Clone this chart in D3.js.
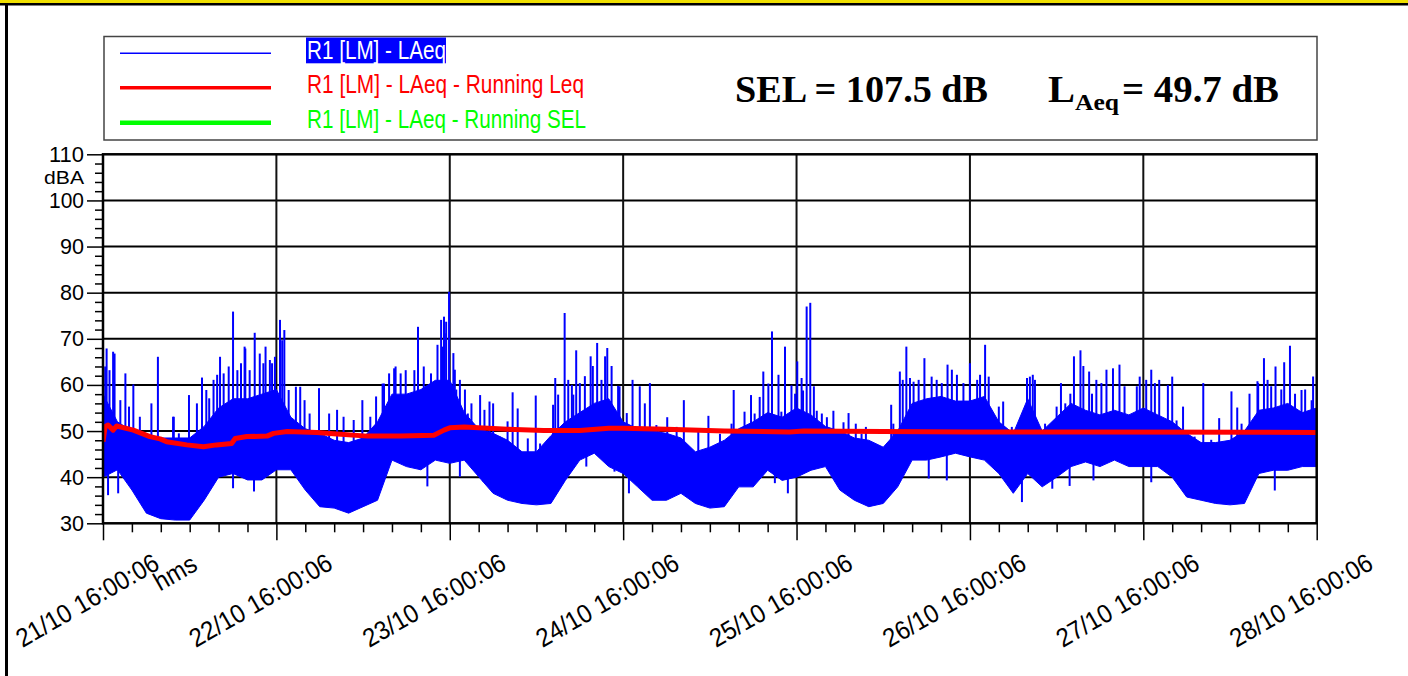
<!DOCTYPE html>
<html lang="en">
<head>
<meta charset="UTF-8">
<title>R1 [LM] - LAeq</title>
<script src="https://cdn.jsdelivr.net/npm/d3@7/dist/d3.min.js"></script>
<style>
  body { margin: 0; background: #fff; }
  svg { display: block; font-family: "Liberation Sans", Arial, sans-serif; }
  .tick line { stroke: #000; stroke-width: 1.5px; }
  .domain { display: none; }
</style>
</head>
<body>
<svg id="chart" width="1408" height="676"></svg>
<script>
// x tick labels, one per day (hours since start)
const dayHours = [0, 24, 48, 72, 96, 120, 144, 168];
const dayLabels = ["21/10 16:00:06", "22/10 16:00:06", "23/10 16:00:06", "24/10 16:00:06",
                   "25/10 16:00:06", "26/10 16:00:06", "27/10 16:00:06", "28/10 16:00:06"];
const yTicks = [30, 40, 50, 60, 70, 80, 90, 100, 110];

// LAeq dense band, read every 2 hours: lower and upper edge (dBA)
const bandHours = [0,2,4,6,8,10,12,14,16,18,20,22,24,26,28,30,32,34,36,38,40,42,44,46,48,
                   50,52,54,56,58,60,62,64,66,68,70,72,74,76,78,80,82,84,86,88,90,92,94,96,
                   98,100,102,104,106,108,110,112,114,116,118,120,122,124,126,128,130,132,134,136,
                   138,140,142,144,146,148,150,152,154,156,158,160,162,164,166,168];
const bandLow = [40,41.6,37.2,32.2,31,30.7,30.7,35,40,40.8,39.4,39.4,41.6,41.6,37.2,33.6,33.3,32.2,33.6,35,43.7,42.3,41.6,43.7,43,
                 43.7,40.1,36.5,35,34.3,34,34.3,39.3,43.7,45.2,42.3,40.8,37.9,35,35,36.5,34.3,33.3,33.6,37.9,37.9,41.5,39.3,40,
                 41.5,42.3,37.2,35,33.6,34.3,37.9,43.7,43.7,44.4,45.2,44.4,43.7,40.8,36.5,40.8,37.9,40,42.3,43.3,
                 42.3,43.7,42.3,42.3,42.3,40,35.7,35,34.3,34,34.3,40.8,41.5,41.5,42.3,42.3];
const bandHigh = [58,52,50,49,48.5,48.5,48.5,51,55,57,57,58,59,53,50.5,49.5,48,47.5,48.5,52,58,58,59,61,61,
                  54,50.5,49.5,48,45.5,45.5,49,52,54,56,57,52,50.5,50,49.5,48.5,45.5,46.5,48,50.5,52,54,53,55,
                  53.5,51,50,48.5,48,46.5,50,56,57,57.5,56.5,56.5,57.5,52,49.5,57,50,53,56,54.5,
                  53.5,54.5,53.5,55,53.5,52,49.5,47.5,47.5,48,50,54.5,55,56,54,55];

// isolated peaks above the band
const peakHours = [0.3,0.5,0.9,1.4,1.6,2.4,3.1,3.6,4.2,5.1,6.7,7.6,9.7,9.8,10.5,11.9,13,13.7,14.3,14.7,15.3,15.8,16.2,16.7,17.4,18,18.6,19.1,19.6,19.7,20.3,21,21.7,22.2,22.5,23.1,23.4,23.8,
                   24.5,24.8,25.1,25.7,26.7,27.3,27.9,28.6,29.9,31.3,32.4,33.3,34.7,35.9,37,37.8,38.7,38.9,39.6,40.3,40.5,41.2,41.9,43.1,43.6,44.4,45.4,46.3,46.8,47,47.2,47.3,47.5,47.9,
                   48.5,48.7,48.9,49.4,50.1,50.5,51,52.2,52.8,53.5,54,54.9,56,56.7,57.4,58.8,59.9,60.5,62.3,62.6,63,63.9,64.4,64.9,65.1,65.5,66,66.7,67.5,67.8,68.4,69,69.5,69.8,70.4,71.3,71.5,72.5,73.3,74.3,75,75.7,76.6,
                   76.9,78.1,79.4,80.4,81,82.4,83.3,83.8,85.4,87,87.3,88.8,89.7,90.2,90.9,91.4,92.1,92.6,93,93.5,93.9,94.4,95.3,95.8,96.1,96.7,96.9,97.4,97.9,98.4,98.8,99.5,100.2,101.1,102.5,103.2,103.6,104.2,105,105.6,
                   109.1,109.4,110.3,110.7,111.2,111.7,112.2,112.9,113.7,114.7,115.4,116.1,116.9,117.5,118.2,119.1,120,121,121.4,122.1,122.6,124,124.6,125.8,127,127.9,128.3,128.7,129,130.4,132,132.6,133.2,133.9,134.4,135.3,135.7,136.5,
                   136.9,137.5,138.2,138.9,139.8,140.7,141.4,143.1,143.5,144.4,145.1,145.6,146.2,147.4,148,148.6,149.5,151.1,152.3,153.4,154.5,155.1,156.2,157,157.6,158.7,159.8,159.9,160.7,161.2,161.7,162.3,163.1,163.5,164.3,165,165.9,166.4,167.3,167.5];
const peakValues = [64,67.9,63.2,67.2,66.8,56.7,62.5,55.3,60.1,53.1,56,66.1,53.1,53.1,49.5,57.8,56,61.6,58.9,57.1,61.1,62.2,66.1,62.5,64,75.9,63.2,64.7,68.3,67.9,63.2,71.3,66.8,64.7,68.3,65.4,64.7,66.1,
                    74.1,69.7,71.9,58.9,59.6,59.6,56.7,53.8,59.3,53.8,54.6,53.1,52.4,56.7,53.1,57.5,60.3,60.3,62.5,63.6,64,62.5,63.2,63.2,72.6,64,62.5,68.7,74.1,68.3,74.8,71.2,73.7,80.2,
                    66.9,63.3,59,61.1,59,53.8,56,57.8,54.6,56.4,56,48.8,52.1,58.4,54.9,48.4,57.7,47.3,55.7,61.5,57.9,75.6,61.1,60,57.9,67.5,60.4,61.9,66.2,64.1,69.1,61.1,66.2,68,64.1,59.8,59.7,53.9,61.1,59.7,56,60.4,51.3,
                    50.9,53,50.9,56.7,45.1,50.6,43.6,53.3,49.4,51.6,58.9,54.2,57.8,53.8,57.4,62.9,60.3,71.6,52.3,62.2,54.2,68.3,59.9,58.1,65.1,61.5,58.8,77,77.8,59.7,54.4,53.8,53,54.4,51.9,53.9,47.2,51.6,49.4,50.9,
                    55.7,51.6,62.9,61.1,68.3,61.5,60.7,61.1,65.8,61.8,61.1,60.4,64.4,63.3,62.2,60.4,64.7,61.1,62.2,68.7,61.8,55.3,56.4,50.9,52.3,61.5,61.8,62.2,61.1,51.6,55.3,60.4,56,58.1,66.2,67.5,64.1,62.9,
                    58.1,61.1,60.4,63.3,63.6,64.4,59.7,59.7,61.8,61.1,63.3,60.4,61.1,60,61.8,52.3,55.3,48.8,60.4,48.1,52.8,46.7,58.6,55.1,51.6,58.1,60.8,60.4,65.8,61.1,59.7,64,59,64.9,68.5,58.1,58.9,59,56.7,61.8];

// isolated dips below the band
const dipHours = [0.7,2.1,18,20.9,44.9,49.4,52.6,66.9,70.8,72.8,83.8,93,94.8,114.3,116.8,127.2,131.4,133.8,137.1,145.1,162.2];
const dipValues = [36.1,36.5,37.6,36.9,38,40.1,39.1,42.3,41.2,36.5,35.7,38.7,36.5,39.7,39.3,34.6,37.5,38.1,39.3,38.9,37.1];

// running Leq
const leqHours = [0,0.3,0.7,1.4,1.9,4.2,6.5,7.9,8.8,11.6,13.9,15.7,17.8,18.3,19.9,22.7,23.6,25.5,29.6,31.9,36.6,41.2,45.8,47.2,48,
                  50,56,61,66,70,72,78,86,95,97,108,120,136,168];
const leqValues = [47.7,51,51.3,50.2,51.1,50.2,48.8,48.3,47.7,47,46.6,47,47.3,48.4,48.8,48.9,49.5,49.9,49.7,49.4,48.9,48.9,49.1,50.2,50.7,
                   50.9,50.4,50.1,50.1,50.6,50.6,50.4,50,49.8,50,49.9,49.8,49.8,49.7];

const legendNames = ["R1 [LM] - LAeq", "R1 [LM] - LAeq - Running Leq", "R1 [LM] - LAeq - Running SEL"];
const legendColors = ["#0000ff", "#ff0000", "#00ff00"];

const svg = d3.select("#chart");

const x = d3.scaleLinear().domain([0, 168]).range([103, 1316.7]);
const y = d3.scaleLinear().domain([30, 110]).range([523.3, 154.3]);

// page border
svg.append("rect").attr("x", 0).attr("y", 0).attr("width", 1408).attr("height", 3).attr("fill", "#f0e000");
svg.append("rect").attr("x", 0).attr("y", 3).attr("width", 1408).attr("height", 2.5).attr("fill", "#000");
svg.append("rect").attr("x", 5).attr("y", 3).attr("width", 3).attr("height", 673).attr("fill", "#000");

// legend box
svg.append("rect").attr("x", 104).attr("y", 36.5).attr("width", 1213).attr("height", 103.5)
  .attr("fill", "#fff").attr("stroke", "#444").attr("stroke-width", 1.5);

const legendY = [53.3, 87.7, 122.7];
const legendW = [1.5, 3.5, 4.5];
const legendTextLen = [139, 277, 279];
svg.append("rect").attr("x", 306).attr("y", 37.5).attr("width", 140).attr("height", 25.8).attr("fill", "#0000ff");
legendNames.forEach((name, i) => {
  svg.append("line").attr("x1", 120).attr("x2", 271).attr("y1", legendY[i]).attr("y2", legendY[i])
    .attr("stroke", legendColors[i]).attr("stroke-width", legendW[i]);
  svg.append("text").attr("x", 307).attr("y", legendY[i] + 5.5)
    .attr("font-size", 26).attr("fill", i === 0 ? "#fff" : legendColors[i])
    .attr("textLength", legendTextLen[i]).attr("lengthAdjust", "spacingAndGlyphs")
    .text(name);
});

const serif = "'Liberation Serif', 'Times New Roman', serif";
svg.append("text").attr("x", 735).attr("y", 102).attr("font-family", serif).attr("font-weight", "bold")
  .attr("font-size", 38).attr("textLength", 253).attr("lengthAdjust", "spacingAndGlyphs").text("SEL = 107.5 dB");
svg.append("text").attr("x", 1048).attr("y", 102).attr("font-family", serif).attr("font-weight", "bold")
  .attr("font-size", 38).attr("textLength", 27).attr("lengthAdjust", "spacingAndGlyphs").text("L");
svg.append("text").attr("x", 1075).attr("y", 110).attr("font-family", serif).attr("font-weight", "bold")
  .attr("font-size", 23).attr("textLength", 44).attr("lengthAdjust", "spacingAndGlyphs").text("Aeq");
svg.append("text").attr("x", 1122).attr("y", 102).attr("font-family", serif).attr("font-weight", "bold")
  .attr("font-size", 38).attr("textLength", 157).attr("lengthAdjust", "spacingAndGlyphs").text("= 49.7 dB");

// grid
const plot = svg.append("g");
plot.selectAll(".hgrid").data(yTicks.slice(1, -1)).enter().append("line")
  .attr("x1", x(0)).attr("x2", x(168)).attr("y1", d => y(d)).attr("y2", d => y(d))
  .attr("stroke", "#000").attr("stroke-width", 2);
plot.selectAll(".vgrid").data(dayHours.slice(1, -1)).enter().append("line")
  .attr("x1", d => x(d)).attr("x2", d => x(d)).attr("y1", y(110)).attr("y2", y(30))
  .attr("stroke", "#111").attr("stroke-width", 2);

svg.append("clipPath").attr("id", "clip").append("rect")
  .attr("x", x(0)).attr("y", y(110)).attr("width", x(168) - x(0)).attr("height", y(30) - y(110));
const data = plot.append("g").attr("clip-path", "url(#clip)");

const band = bandHours.map((h, i) => ({ h, lo: bandLow[i], hi: bandHigh[i] }));
const interp = (h, key) => {
  const i = Math.min(band.length - 2, Math.max(0, d3.bisectRight(bandHours, h) - 1));
  const t = (h - band[i].h) / (band[i + 1].h - band[i].h);
  return band[i][key] + t * (band[i + 1][key] - band[i][key]);
};

data.append("path").datum(band)
  .attr("fill", "#0000ff").attr("stroke", "#0000ff").attr("stroke-width", 1)
  .attr("d", d3.area().x(d => x(d.h)).y0(d => y(d.lo)).y1(d => y(d.hi)));

data.selectAll(".peak").data(peakHours).enter().append("line")
  .attr("x1", d => x(d)).attr("x2", d => x(d))
  .attr("y1", d => y(interp(d, "hi") - 3)).attr("y2", (d, i) => y(peakValues[i]))
  .attr("stroke", "#0000ff").attr("stroke-width", 2);

data.selectAll(".dip").data(dipHours).enter().append("line")
  .attr("x1", d => x(d)).attr("x2", d => x(d))
  .attr("y1", d => y(interp(d, "lo") + 3)).attr("y2", (d, i) => y(dipValues[i]))
  .attr("stroke", "#0000ff").attr("stroke-width", 2);

data.append("path").datum(leqHours.map((h, i) => [h, leqValues[i]]))
  .attr("fill", "none").attr("stroke", "#ff0000").attr("stroke-width", 5).attr("stroke-linejoin", "round")
  .attr("d", d3.line().x(d => x(d[0])).y(d => y(d[1])));

// frame
svg.append("rect").attr("x", x(0)).attr("y", y(110)).attr("width", x(168) - x(0)).attr("height", y(30) - y(110))
  .attr("fill", "none").attr("stroke", "#000").attr("stroke-width", 2.5);

// y axis
const minorY = [];
for (let v = 30; v <= 110; v += 2) if (v % 10 !== 0) minorY.push(v);
svg.append("g").attr("transform", `translate(${x(0)},0)`)
  .call(d3.axisLeft(y).tickValues(minorY).tickSize(8).tickFormat(""));
const yAxis = svg.append("g").attr("transform", `translate(${x(0)},0)`)
  .call(d3.axisLeft(y).tickValues(yTicks).tickSize(16).tickPadding(3));
yAxis.selectAll("text").attr("font-size", 22).attr("fill", "#000")
  .attr("font-family", "'Liberation Sans', Arial, sans-serif")
  .attr("textLength", 35).attr("lengthAdjust", "spacingAndGlyphs");
yAxis.selectAll("text").filter(d => d < 100).attr("textLength", 24);
svg.append("text").attr("x", 84).attr("y", 183.5).attr("text-anchor", "end").attr("font-size", 19)
  .attr("textLength", 40).attr("lengthAdjust", "spacingAndGlyphs").text("dBA");

// x axis
const minorX = [];
for (let h = 4; h < 168; h += 4) if (h % 24 !== 0) minorX.push(h);
svg.append("g").attr("transform", `translate(0,${y(30)})`)
  .call(d3.axisBottom(x).tickValues(minorX).tickSize(9).tickFormat(""));
svg.append("g").attr("transform", `translate(0,${y(30)})`)
  .call(d3.axisBottom(x).tickValues(dayHours).tickSize(17).tickFormat(""));

svg.selectAll(".xlab").data(dayHours).enter().append("text")
  .attr("transform", d => `translate(${x(d) + 58},568) rotate(-30)`)
  .attr("text-anchor", "end").attr("font-size", 26)
  .attr("textLength", 160).attr("lengthAdjust", "spacingAndGlyphs")
  .text((d, i) => dayLabels[i]);
svg.append("text").attr("transform", "translate(199,569) rotate(-30)")
  .attr("text-anchor", "end").attr("font-size", 26)
  .attr("textLength", 45).attr("lengthAdjust", "spacingAndGlyphs").text("hms");
</script>
</body>
</html>
